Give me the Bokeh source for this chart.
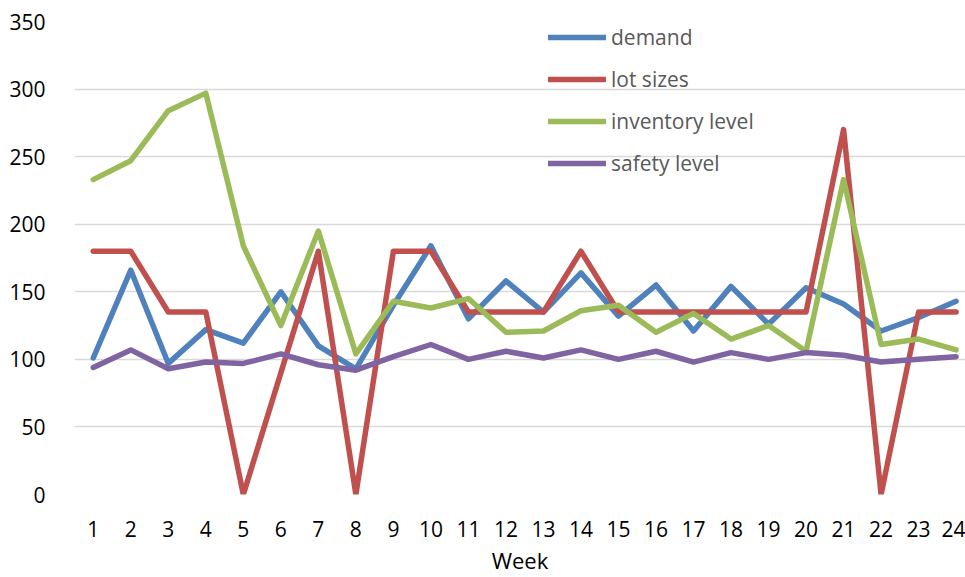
from bokeh.plotting import figure
from bokeh.models import Range1d, FixedTicker, Legend, LegendItem
from bokeh.embed import file_html
from bokeh.resources import INLINE

weeks = list(range(1, 25))
demand = [101, 166, 97, 122, 112, 150, 110, 93, 140, 184, 130, 158, 135, 164, 132, 155, 121, 154, 126, 153, 141, 121, 131, 143]
lot_sizes = [180, 180, 135, 135, 0, 90, 180, 0, 180, 180, 135, 135, 135, 180, 135, 135, 135, 135, 135, 135, 270, 0, 135, 135]
inventory_level = [233, 247, 284, 297, 184, 125, 195, 104, 143, 138, 145, 120, 121, 136, 140, 120, 134, 115, 125, 106, 233, 111, 115, 107]
safety_level = [94, 107, 93, 98, 97, 104, 96, 92, 102, 111, 100, 106, 101, 107, 100, 106, 98, 105, 100, 105, 103, 98, 100, 102]
y_ticks = [0, 50, 100, 150, 200, 250, 300, 350]
series_names = ["demand", "lot sizes", "inventory level", "safety level"]
colors = ["#4F81BD", "#C0504D", "#9BBB59", "#8064A2"]
x_title = "Week"

FONT = "Open Sans"

p = figure(width=965, height=577, output_backend="svg", toolbar_location=None,
           x_range=Range1d(0.5, 24.25), y_range=Range1d(0, 350),
           min_border_left=74, min_border_right=0, min_border_top=21, min_border_bottom=83)
p.outline_line_color = None
p.background_fill_color = "white"

p.xaxis.ticker = FixedTicker(ticks=weeks)
p.yaxis.ticker = FixedTicker(ticks=y_ticks)
for ax in (p.xaxis[0], p.yaxis[0]):
    ax.axis_line_color = None
    ax.major_tick_line_color = None
    ax.minor_tick_line_color = None
    ax.major_label_text_font = FONT
    ax.major_label_text_font_size = "21px"
    ax.major_label_text_color = "black"
p.xaxis.major_label_standoff = 20
p.yaxis.major_label_standoff = 23
p.xaxis.axis_label = x_title
p.xaxis.axis_label_text_font = FONT
p.xaxis.axis_label_text_font_size = "22px"
p.xaxis.axis_label_text_font_style = "normal"
p.xaxis.axis_label_text_color = "black"
p.xaxis.axis_label_standoff = 5

p.xgrid.grid_line_color = None
p.ygrid.grid_line_color = "#D9D9D9"
p.ygrid.grid_line_width = 1.5

items = []
for name, vals, c in zip(series_names, [demand, lot_sizes, inventory_level, safety_level], colors):
    r = p.line(weeks, vals, line_color=c, line_width=5.5, line_join="round", line_cap="round")
    items.append(LegendItem(label=name, renderers=[r]))

legend = Legend(items=items, location=(474, 317))
legend.background_fill_alpha = 0
legend.border_line_color = None
legend.margin = 0
legend.padding = 0
legend.glyph_width = 58
legend.glyph_height = 20
legend.label_height = 20
legend.spacing = 14
legend.label_standoff = 5
legend.label_text_font = FONT
legend.label_text_font_size = "21px"
legend.label_text_color = "#595959"
p.add_layout(legend)

open("out.html", "w").write(file_html(p, INLINE))
